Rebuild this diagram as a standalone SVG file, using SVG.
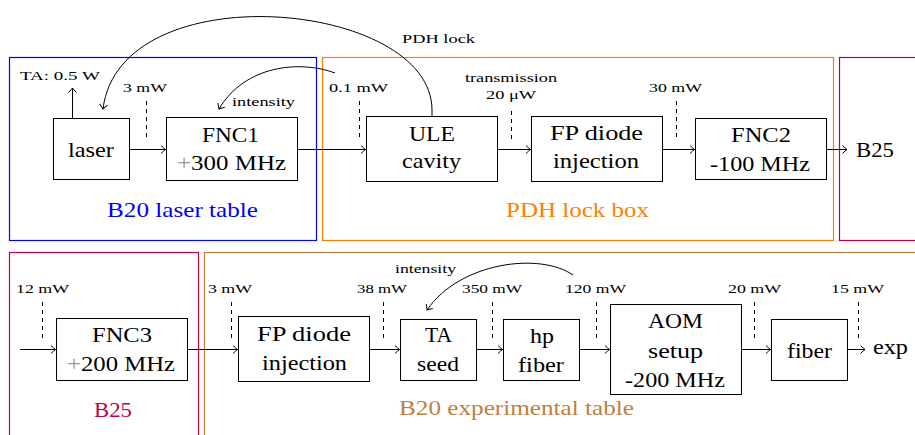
<svg xmlns="http://www.w3.org/2000/svg" width="915" height="435" viewBox="0 0 915 435">
<defs>
<marker id="arr" viewBox="-6 -5 7 10" markerWidth="7" markerHeight="10" refX="0" refY="0" orient="auto" markerUnits="userSpaceOnUse">
<path d="M-4.5,-4 Q-1.5,-1 0,0 Q-1.5,1 -4.5,4" fill="none" stroke="#000" stroke-width="1"/>
</marker>
</defs>
<style>
.box{fill:#fff;stroke:#000;stroke-width:1}
.reg{fill:none;stroke-width:1.2}
text{font-family:'Liberation Serif','DejaVu Serif','Times New Roman',serif}
.t{font-size:21px;fill:#000;text-anchor:middle}
.s{font-size:12.5px;fill:#000;text-anchor:middle}
.rl{font-size:21px;text-anchor:middle}
.ln{fill:none;stroke:#000;stroke-width:1}
.dash{fill:none;stroke:#000;stroke-width:1;stroke-dasharray:4 4}
.g{fill:#999}
</style>

<g id="region-laser-table">
<rect class="reg" x="9.5" y="57.5" width="307" height="183" stroke="#0000FF"/>
<text class="rl" x="182.5" y="217" fill="#0000FF" textLength="151" lengthAdjust="spacingAndGlyphs">B20 laser table</text>
</g>
<g id="region-pdh-box">
<rect class="reg" x="322.5" y="57.5" width="511" height="183" stroke="#FF8000"/>
<text class="rl" x="577.5" y="217" fill="#FF8000" textLength="143" lengthAdjust="spacingAndGlyphs">PDH lock box</text>
</g>
<g id="region-b25-top">
<rect class="reg" x="839.5" y="57.5" width="90" height="183" stroke="#BF0040"/>
</g>
<g id="region-b25-bottom">
<rect class="reg" x="9.5" y="252.5" width="189" height="200" stroke="#BF0040"/>
<text class="rl" x="113" y="417" fill="#BF0040" textLength="38" lengthAdjust="spacingAndGlyphs">B25</text>
</g>
<g id="region-exp-table">
<rect class="reg" x="204.5" y="252.5" width="730" height="200" stroke="#BF8040"/>
<text class="rl" x="516.5" y="415" fill="#BF8040" textLength="235" lengthAdjust="spacingAndGlyphs">B20 experimental table</text>
</g>

<g id="laser">
<rect class="box" x="53.5" y="118.5" width="76" height="61"/>
<text class="t" x="91" y="157" textLength="46" lengthAdjust="spacingAndGlyphs">laser</text>
</g>
<g id="fnc1">
<rect class="box" x="166.5" y="117.5" width="131" height="63"/>
<text class="t" x="230.5" y="142" textLength="57" lengthAdjust="spacingAndGlyphs">FNC1</text>
<text class="t" x="231.5" y="170" textLength="109" lengthAdjust="spacingAndGlyphs"><tspan class="g">+</tspan>300 MHz</text>
</g>
<g id="ule">
<rect class="box" x="366.5" y="116.5" width="131" height="65"/>
<text class="t" x="432" y="141" textLength="46" lengthAdjust="spacingAndGlyphs">ULE</text>
<text class="t" x="431.5" y="168" textLength="59" lengthAdjust="spacingAndGlyphs">cavity</text>
</g>
<g id="fp1">
<rect class="box" x="531.5" y="116.5" width="131" height="65"/>
<text class="t" x="596.5" y="140" textLength="93" lengthAdjust="spacingAndGlyphs">FP diode</text>
<text class="t" x="596" y="168" textLength="86" lengthAdjust="spacingAndGlyphs">injection</text>
</g>
<g id="fnc2">
<rect class="box" x="695.5" y="118.5" width="131" height="61"/>
<text class="t" x="761" y="142" textLength="60" lengthAdjust="spacingAndGlyphs">FNC2</text>
<text class="t" x="760" y="171" textLength="100" lengthAdjust="spacingAndGlyphs">-100 MHz</text>
</g>
<g id="b25-out">
<text class="t" x="875" y="157" textLength="38" lengthAdjust="spacingAndGlyphs">B25</text>
</g>

<g id="fnc3">
<rect class="box" x="56.5" y="318.5" width="131" height="62"/>
<text class="t" x="122" y="342" textLength="60" lengthAdjust="spacingAndGlyphs">FNC3</text>
<text class="t" x="121" y="371" textLength="108" lengthAdjust="spacingAndGlyphs"><tspan class="g">+</tspan>200 MHz</text>
</g>
<g id="fp2">
<rect class="box" x="238.5" y="316.5" width="131" height="65"/>
<text class="t" x="304" y="341" textLength="94" lengthAdjust="spacingAndGlyphs">FP diode</text>
<text class="t" x="304.5" y="370" textLength="85" lengthAdjust="spacingAndGlyphs">injection</text>
</g>
<g id="ta">
<rect class="box" x="400.5" y="319.5" width="76" height="61"/>
<text class="t" x="438.5" y="342" textLength="27" lengthAdjust="spacingAndGlyphs">TA</text>
<text class="t" x="438" y="371" textLength="42" lengthAdjust="spacingAndGlyphs">seed</text>
</g>
<g id="hp-fiber">
<rect class="box" x="503.5" y="319.5" width="76" height="61"/>
<text class="t" x="542" y="343" textLength="24" lengthAdjust="spacingAndGlyphs">hp</text>
<text class="t" x="541" y="372" textLength="46" lengthAdjust="spacingAndGlyphs">fiber</text>
</g>
<g id="aom">
<rect class="box" x="610.5" y="304.5" width="131" height="90"/>
<text class="t" x="675.5" y="328" textLength="55" lengthAdjust="spacingAndGlyphs">AOM</text>
<text class="t" x="675.5" y="358" textLength="55" lengthAdjust="spacingAndGlyphs">setup</text>
<text class="t" x="675" y="387" textLength="100" lengthAdjust="spacingAndGlyphs">-200 MHz</text>
</g>
<g id="fiber">
<rect class="box" x="771.5" y="319.5" width="76" height="61"/>
<text class="t" x="809.5" y="358" textLength="45" lengthAdjust="spacingAndGlyphs">fiber</text>
</g>
<g id="exp">
<text class="t" x="890.5" y="354" textLength="35" lengthAdjust="spacingAndGlyphs">exp</text>
</g>

<g id="connectors">
<line class="ln" x1="129.5" y1="149.5" x2="165.5" y2="149.5" marker-end="url(#arr)"/>
<line class="ln" x1="297.5" y1="149.5" x2="365.5" y2="149.5" marker-end="url(#arr)"/>
<line class="ln" x1="497.5" y1="149.5" x2="530.5" y2="149.5" marker-end="url(#arr)"/>
<line class="ln" x1="662.5" y1="149.5" x2="694.5" y2="149.5" marker-end="url(#arr)"/>
<line class="ln" x1="826.5" y1="149.5" x2="847" y2="149.5" marker-end="url(#arr)"/>
<line class="ln" x1="72.5" y1="118" x2="72.5" y2="88" marker-end="url(#arr)"/>
<path class="ln" d="M432,116 L432,110 C432,0 120,-28 103,109" marker-end="url(#arr)"/>
<path class="ln" d="M335,73 C300,60 245,65 219,109" marker-end="url(#arr)"/>

<line class="ln" x1="20" y1="349.5" x2="55.5" y2="349.5" marker-end="url(#arr)"/>
<line class="ln" x1="187.5" y1="349.5" x2="237.5" y2="349.5" marker-end="url(#arr)"/>
<line class="ln" x1="369.5" y1="349.5" x2="399.5" y2="349.5" marker-end="url(#arr)"/>
<line class="ln" x1="476.5" y1="349.5" x2="502.5" y2="349.5" marker-end="url(#arr)"/>
<line class="ln" x1="579.5" y1="349.5" x2="609.5" y2="349.5" marker-end="url(#arr)"/>
<line class="ln" x1="741.5" y1="349.5" x2="770.5" y2="349.5" marker-end="url(#arr)"/>
<line class="ln" x1="847.5" y1="349.5" x2="865" y2="349.5" marker-end="url(#arr)"/>
<path class="ln" d="M573,275 C540,252 460,262 427,310" marker-end="url(#arr)"/>

<line class="dash" x1="146.5" y1="101" x2="146.5" y2="140"/>
<line class="dash" x1="359.5" y1="101" x2="359.5" y2="140"/>
<line class="dash" x1="511.5" y1="111" x2="511.5" y2="140"/>
<line class="dash" x1="676.5" y1="101" x2="676.5" y2="140"/>
<line class="dash" x1="42.5" y1="302" x2="42.5" y2="342"/>
<line class="dash" x1="231.5" y1="302" x2="231.5" y2="342"/>
<line class="dash" x1="383.5" y1="302" x2="383.5" y2="342"/>
<line class="dash" x1="492.5" y1="302" x2="492.5" y2="342"/>
<line class="dash" x1="596.5" y1="302" x2="596.5" y2="342"/>
<line class="dash" x1="754.5" y1="302" x2="754.5" y2="342"/>
<line class="dash" x1="858.5" y1="302" x2="858.5" y2="342"/>
</g>

<g id="labels">
<text class="s" x="60" y="80" textLength="80" lengthAdjust="spacingAndGlyphs">TA: 0.5 W</text>
<text class="s" x="145" y="92" textLength="44" lengthAdjust="spacingAndGlyphs">3 mW</text>
<text class="s" x="263.5" y="106" textLength="63" lengthAdjust="spacingAndGlyphs">intensity</text>
<text class="s" x="358.5" y="92" textLength="59" lengthAdjust="spacingAndGlyphs">0.1 mW</text>
<text class="s" x="438.5" y="43" textLength="73" lengthAdjust="spacingAndGlyphs">PDH lock</text>
<text class="s" x="511" y="82" textLength="92" lengthAdjust="spacingAndGlyphs">transmission</text>
<text class="s" x="511" y="99" textLength="50" lengthAdjust="spacingAndGlyphs">20 μW</text>
<text class="s" x="675.5" y="92" textLength="53" lengthAdjust="spacingAndGlyphs">30 mW</text>
<text class="s" x="42.5" y="293" textLength="53" lengthAdjust="spacingAndGlyphs">12 mW</text>
<text class="s" x="230" y="293" textLength="44" lengthAdjust="spacingAndGlyphs">3 mW</text>
<text class="s" x="382" y="293" textLength="50" lengthAdjust="spacingAndGlyphs">38 mW</text>
<text class="s" x="425.5" y="273" textLength="61" lengthAdjust="spacingAndGlyphs">intensity</text>
<text class="s" x="492" y="293" textLength="60" lengthAdjust="spacingAndGlyphs">350 mW</text>
<text class="s" x="595.5" y="293" textLength="61" lengthAdjust="spacingAndGlyphs">120 mW</text>
<text class="s" x="754.5" y="293" textLength="53" lengthAdjust="spacingAndGlyphs">20 mW</text>
<text class="s" x="857.5" y="293" textLength="53" lengthAdjust="spacingAndGlyphs">15 mW</text>
</g>
</svg>
